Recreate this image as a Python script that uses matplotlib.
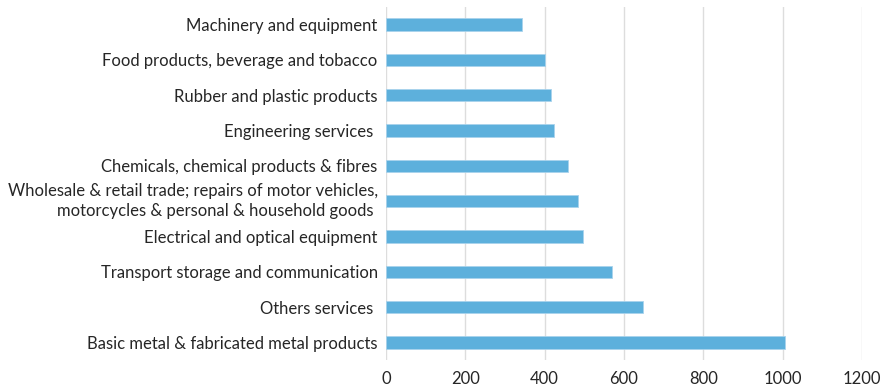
import numpy as np
import matplotlib.pyplot as plt

# sectors listed bottom to top
sectors = ['Basic metal & fabricated metal products',
           'Others services ',
           'Transport storage and communication',
           'Electrical and optical equipment',
           'Wholesale & retail trade; repairs of motor vehicles,\nmotorcycles & personal & household goods ',
           'Chemicals, chemical products & fibres',
           'Engineering services ',
           'Rubber and plastic products',
           'Food products, beverage and tobacco',
           'Machinery and equipment']
values = [1006, 647, 570, 497, 485, 460, 423, 417, 402, 342]
xticks = [0, 200, 400, 600, 800, 1000, 1200]

plt.rcParams['font.family'] = ['Lato', 'DejaVu Sans']

fig = plt.figure(figsize=(8.83, 3.9), dpi=100)
ax = fig.add_axes([0.4371, 0.0769, 0.5391, 0.9059])

y = np.arange(len(sectors))
ax.barh(y, values, height=0.35, color='#5DB0DC', edgecolor='#A9D3EC', linewidth=0.6, zorder=3)

ax.set_xlim(0, 1200)
ax.set_ylim(-0.5, len(sectors) - 0.5)
ax.set_xticks(xticks)
ax.set_yticks(y)
ax.set_yticklabels(sectors, ha='right', multialignment='right', linespacing=1.35)
# two-line label: centre the block on the bar
for lab in ax.get_yticklabels():
    if '\n' in lab.get_text():
        lab.set_va('center')
ax.tick_params(axis='both', length=0, labelsize=12, colors='#262626', pad=8)
ax.tick_params(axis='y', pad=6)
ax.grid(axis='x', color='#DDDDDD', linewidth=1.0, zorder=0)
for s in ax.spines.values():
    s.set_visible(False)

plt.savefig('out.png', dpi=100)
plt.close()
